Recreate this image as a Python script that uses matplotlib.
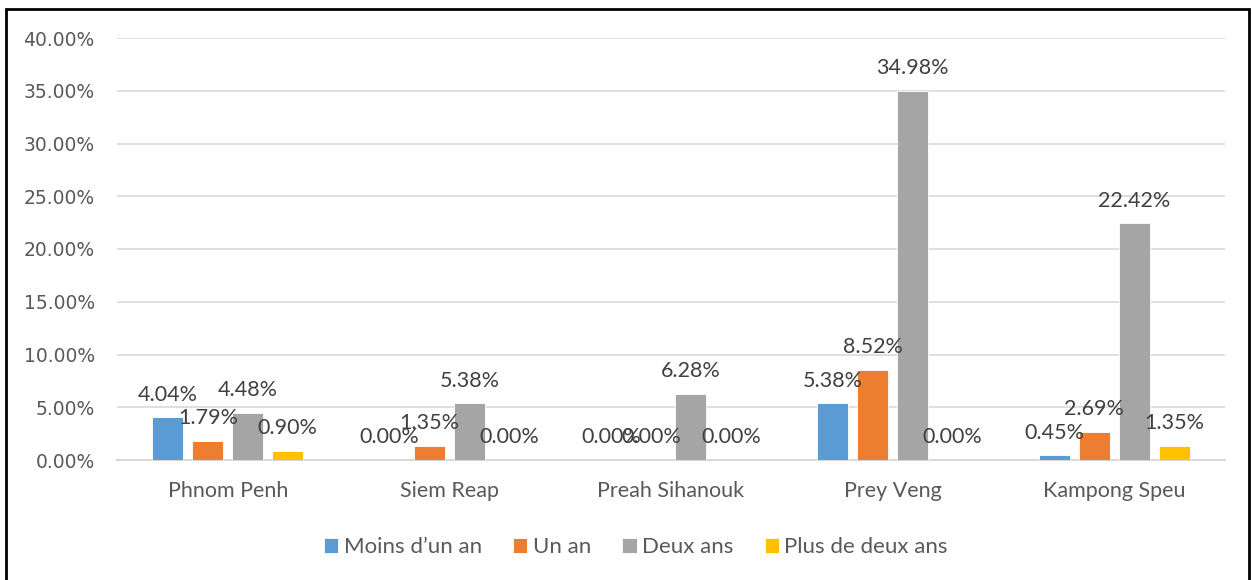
import matplotlib
matplotlib.use("Agg")
import matplotlib.pyplot as plt
import numpy as np
from matplotlib.patches import Rectangle
from matplotlib.ticker import MultipleLocator, FuncFormatter

# ---------------------------
# Données (en %)
# ---------------------------
provinces = ["Phnom Penh", "Siem Reap", "Preah Sihanouk", "Prey Veng", "Kampong Speu"]
series_names = ["Moins d\u2019un an", "Un an", "Deux ans", "Plus de deux ans"]
moins_un_an = [4.04, 0.00, 0.00, 5.38, 0.45]
un_an = [1.79, 1.35, 0.00, 8.52, 2.69]
deux_ans = [4.48, 5.38, 6.28, 34.98, 22.42]
plus_deux_ans = [0.90, 0.00, 0.00, 0.00, 1.35]
colors = ["#5B9BD5", "#ED7D31", "#A5A5A5", "#FFC000"]

W, H = 1252, 580
fig = plt.figure(figsize=(W / 100, H / 100), dpi=100)
ax = fig.add_axes([117 / W, 1 - 460 / H, 1108 / W, 422 / H])

x = np.arange(len(provinces))
bar_w = 0.14
step = 0.18
all_series = [moins_un_an, un_an, deux_ans, plus_deux_ans]

for i, (vals, name, col) in enumerate(zip(all_series, series_names, colors)):
    pos = x + (i - 1.5) * step
    ax.bar(pos, vals, width=bar_w, color=col, label=name,
           edgecolor="white", linewidth=0.6, zorder=3)
    for xb, v in zip(pos, vals):
        ax.annotate(f"{v:.2f}%", (xb, v), xytext=(0, 12), textcoords="offset points",
                    ha="center", va="baseline", fontsize=15.5, color="#404040",
                    family="Lato", zorder=4)

ax.set_xlim(-0.5, len(provinces) - 0.5)
ax.set_ylim(0, 40)
ax.yaxis.set_major_locator(MultipleLocator(5))
ax.yaxis.set_major_formatter(FuncFormatter(lambda v, p: f"{v:.2f}%"))
ax.grid(axis="y", color="#D9D9D9", linewidth=1.2, zorder=0)
ax.set_axisbelow(True)
for s in ["top", "right", "left"]:
    ax.spines[s].set_visible(False)
ax.spines["bottom"].set_color("#D9D9D9")
ax.spines["bottom"].set_linewidth(1.5)

ax.set_xticks(x)
ax.set_xticklabels(provinces, fontsize=15.5, color="#595959", family="Lato")
ax.tick_params(axis="x", length=0, pad=15)
ax.tick_params(axis="y", length=0, pad=16, labelsize=13.5, labelcolor="#595959")

fig.legend(loc="center", bbox_to_anchor=(636 / W, 1 - 547 / H), ncol=4, frameon=False,
           handlelength=0.64, handleheight=0.64, handletextpad=0.25, columnspacing=1.4,
           borderpad=0, prop={"family": "Lato", "size": 16}, labelcolor="#595959")

# cadre noir autour du graphique
fig.patches.append(Rectangle((6 / W, -0.02), 1243 / W, 1.02 - 9 / H,
                             transform=fig.transFigure, fill=False,
                             edgecolor="black", linewidth=2))

fig.savefig("out.png", dpi=100)
